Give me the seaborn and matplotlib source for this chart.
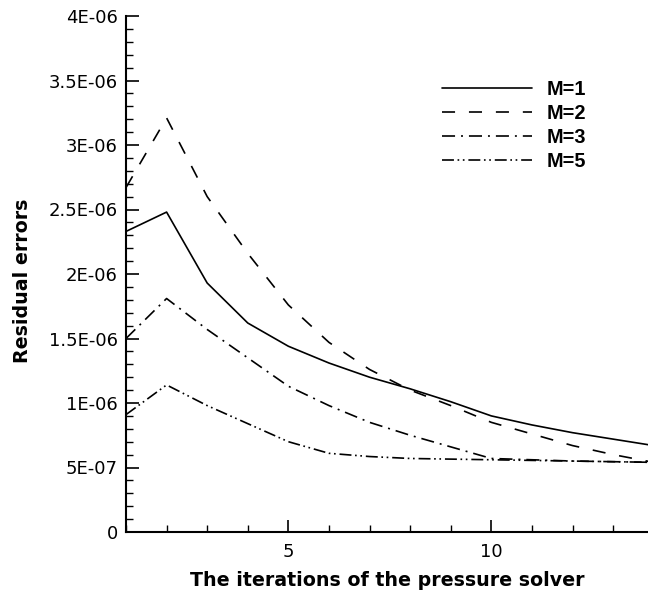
import matplotlib
matplotlib.use("Agg")
import matplotlib.pyplot as plt
import seaborn as sns
import pandas as pd
from matplotlib.ticker import MultipleLocator, FixedLocator

iterations = [1, 2, 3, 4, 5, 6, 7, 8, 9, 10, 11, 12, 13, 14]
m1 = [2.33e-6, 2.48e-6, 1.93e-6, 1.62e-6, 1.44e-6, 1.31e-6, 1.20e-6, 1.11e-6, 1.01e-6, 0.90e-6, 0.83e-6, 0.77e-6, 0.72e-6, 0.67e-6]
m2 = [2.67e-6, 3.21e-6, 2.60e-6, 2.16e-6, 1.76e-6, 1.47e-6, 1.26e-6, 1.10e-6, 0.98e-6, 0.85e-6, 0.76e-6, 0.67e-6, 0.60e-6, 0.54e-6]
m3 = [1.50e-6, 1.81e-6, 1.57e-6, 1.35e-6, 1.13e-6, 0.98e-6, 0.85e-6, 0.75e-6, 0.66e-6, 0.57e-6, 0.56e-6, 0.55e-6, 0.545e-6, 0.54e-6]
m5 = [0.91e-6, 1.14e-6, 0.98e-6, 0.84e-6, 0.70e-6, 0.61e-6, 0.585e-6, 0.57e-6, 0.565e-6, 0.56e-6, 0.555e-6, 0.55e-6, 0.545e-6, 0.54e-6]
series_labels = ["M=1", "M=2", "M=3", "M=5"]
ytick_values = [0, 5e-7, 1e-6, 1.5e-6, 2e-6, 2.5e-6, 3e-6, 3.5e-6, 4e-6]
ytick_labels = ["0", "5E-07", "1E-06", "1.5E-06", "2E-06", "2.5E-06", "3E-06", "3.5E-06", "4E-06"]
xtick_values = [5, 10]
xtick_labels = ["5", "10"]

sns.set_theme(style="ticks")
plt.rcParams["font.family"] = ["DejaVu Sans"]
plt.rcParams["lines.scale_dashes"] = False
plt.rcParams["text.color"] = "black"
plt.rcParams["axes.labelcolor"] = "black"
plt.rcParams["xtick.color"] = "black"
plt.rcParams["ytick.color"] = "black"

W, H = 648, 596
fig = plt.figure(figsize=(W / 100, H / 100), dpi=100)
left, right, top, bottom = 126, 648, 16, 532
ax = fig.add_axes([left / W, 1 - bottom / H, (right - left) / W, (bottom - top) / H])

styles = [
    "-",
    (0, (9.4, 10.0)),
    (0, (9.4, 4.3, 1.4, 4.3)),
    (0, (8.6, 2.6, 1.2, 2.6, 1.2, 2.8)),
]
values = [m1, m2, m3, m5]
for lab, vals, ls in zip(series_labels, values, styles):
    df = pd.DataFrame({"x": iterations, "y": vals})
    sns.lineplot(data=df, x="x", y="y", ax=ax, color="black", linewidth=1.2,
                 linestyle=ls, label=lab, legend=False)

ax.set_xlim(1, 13.86)
ax.set_ylim(0, 4e-6)
ax.yaxis.set_major_locator(FixedLocator(ytick_values))
ax.set_yticklabels(ytick_labels)
ax.yaxis.set_minor_locator(MultipleLocator(1e-7))
ax.xaxis.set_major_locator(FixedLocator(xtick_values))
ax.set_xticklabels(xtick_labels)
ax.xaxis.set_minor_locator(MultipleLocator(1))

for s in ["top", "right"]:
    ax.spines[s].set_visible(False)
for s in ["left", "bottom"]:
    ax.spines[s].set_linewidth(1.5)
    ax.spines[s].set_color("black")

ax.tick_params(which="major", direction="in", length=9, width=1.2, labelsize=13,
               colors="black", labelcolor="black", pad=6)
ax.tick_params(which="minor", direction="in", length=5, width=1.0, colors="black")
ax.tick_params(axis="x", which="major", pad=8)

ax.set_xlabel("The iterations of the pressure solver", fontsize=13.7, fontweight="bold", color="black")
ax.set_ylabel("Residual errors", fontsize=13.7, fontweight="bold", color="black")
ax.xaxis.set_label_coords((387 - left) / (right - left), -(580 - bottom) / (bottom - top))
ax.xaxis.label.set_va("center")
ax.yaxis.set_label_coords((23 - left) / (right - left), (bottom - 281) / (bottom - top))
ax.yaxis.label.set_ha("center")
ax.yaxis.label.set_va("center")

handles, labs = ax.get_legend_handles_labels()
leg = ax.legend(handles, labs, loc="upper left",
                bbox_to_anchor=(442 / W, 1 - 80 / H), bbox_transform=fig.transFigure,
                frameon=False, borderpad=0, borderaxespad=0,
                handlelength=4.52, handletextpad=0.75, labelspacing=0.25,
                labelcolor="black",
                prop={"family": "Liberation Sans", "size": 14.3, "weight": "bold"})

fig.savefig("out.png", dpi=100, facecolor="white")
